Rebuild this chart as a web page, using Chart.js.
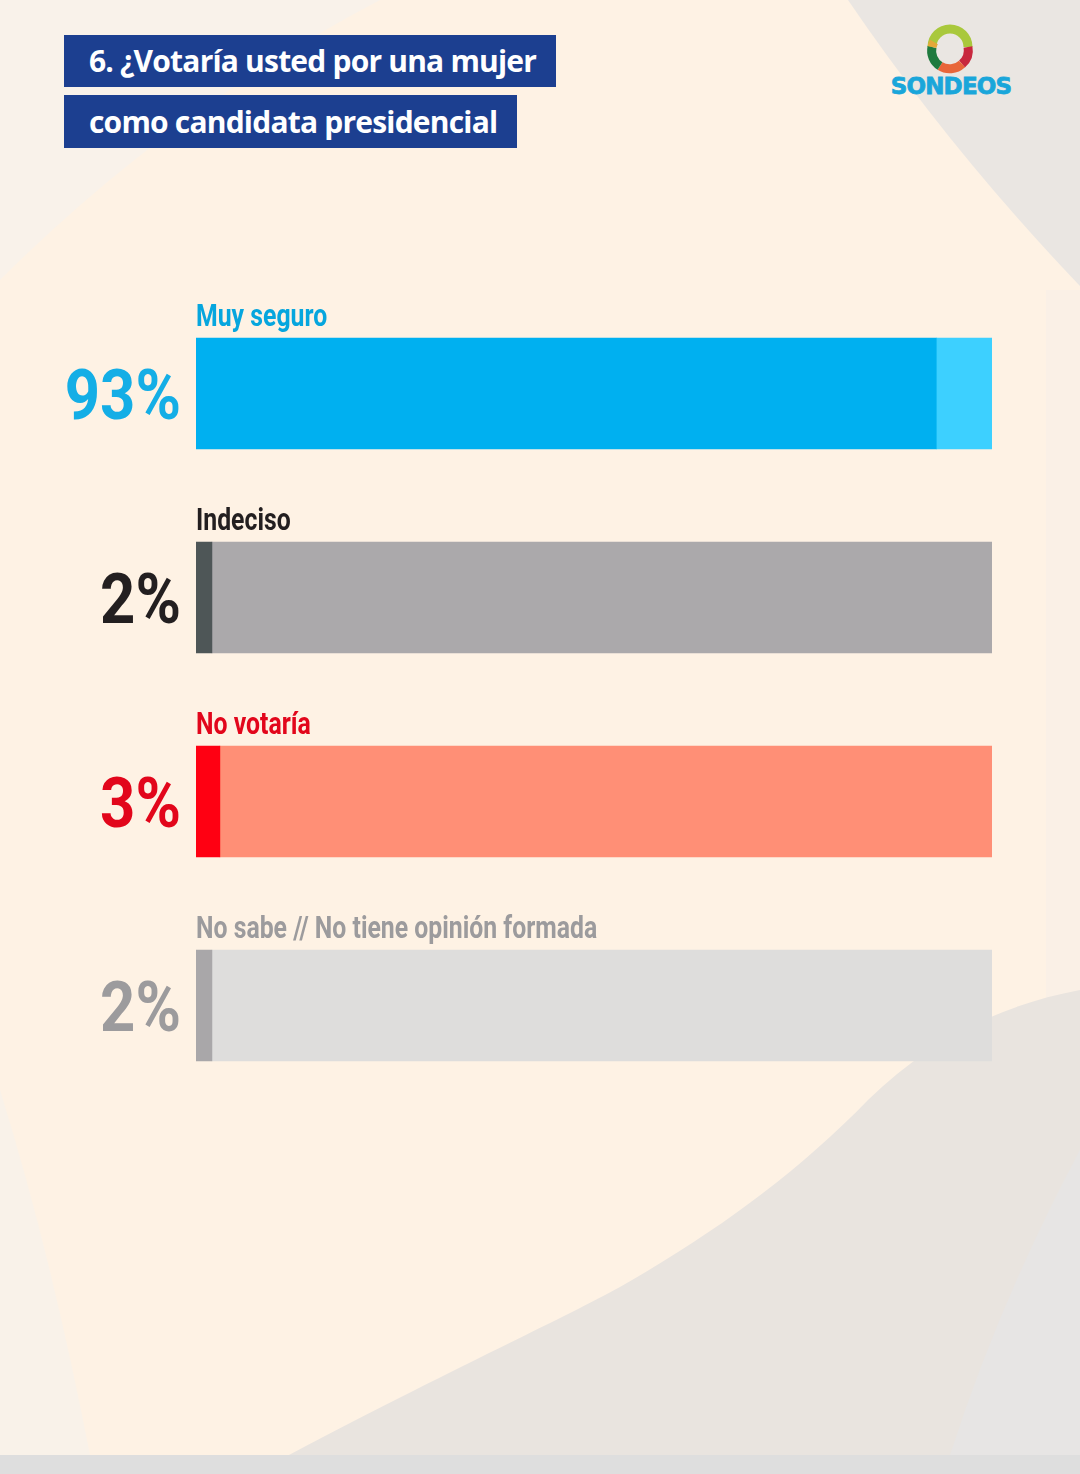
<!DOCTYPE html>
<html>
<head>
<meta charset="utf-8">
<script src="https://cdn.jsdelivr.net/npm/chart.js@4.4.1/dist/chart.umd.min.js"></script>
<style>
  html, body { margin: 0; padding: 0; }
  body { width: 1080px; height: 1474px; position: relative; overflow: hidden; background: #FEF2E4; }
  #bg { position: absolute; left: 0; top: 0; }
  .tbox { position: absolute; left: 64px; background: #1C3F90; color: #fff;
          font-family: "Open Sans", "Noto Sans", sans-serif; font-weight: 700; font-size: 30px;
          letter-spacing: -0.8px; box-sizing: border-box; padding-left: 25px; white-space: nowrap; }
  #t1 { top: 35px; width: 492px; height: 52px; line-height: 52px; }
  #t2 { top: 95px; width: 453px; height: 53px; line-height: 53px; }
  #logo { position: absolute; left: 886px; top: 24px; width: 130px; height: 76px; }
  #logoText { position: absolute; left: 0; top: 49px; width: 130px; text-align: center;
              font-family: "DejaVu Sans", sans-serif; font-weight: 700; font-size: 23px; color: #1AA6DA;
              letter-spacing: -0.8px; -webkit-text-stroke: 0.8px #1AA6DA; }
  #wrap { position: absolute; left: 0; top: 0; width: 1080px; height: 1474px; }
</style>
</head>
<body>
<svg id="bg" width="1080" height="1474" viewBox="0 0 1080 1474">
  <path d="M0,0 L380,0 Q170,110 0,280 Z" fill="#F9F2EA"/>
  <path d="M848,0 L1080,0 L1080,286 Q950,150 848,0 Z" fill="#EAE6E2"/>
  <path d="M1046,290 L1080,290 L1080,1000 L1046,1000 Z" fill="#FAF0E6"/>
  <path d="M289,1455 C450,1370 560,1320 620,1287 C720,1230 800,1170 868,1100 C930,1040 1000,1005 1080,990 L1080,1455 Z" fill="#E9E4DF"/>
  <path d="M1080,1150 Q1000,1300 950,1455 L1080,1455 Z" fill="#E7E5E4"/>
  <path d="M0,1090 Q50,1250 90,1455 L0,1455 Z" fill="#F9F2E9"/>
  <rect x="0" y="1455" width="1080" height="19" fill="#DEDEDE"/>
</svg>
<div class="tbox" id="t1">6. ¿Votaría usted por una mujer</div>
<div class="tbox" id="t2">como candidata presidencial</div>
<div id="logo">
  <svg width="130" height="50" viewBox="0 0 130 50" style="position:absolute;left:0;top:0">
    <g transform="translate(64,27)" fill="none" stroke-width="9">
      <path d="M-18,-4 A18,18 0 0 1 18,-4" stroke="#A9C83C"/>
      <path d="M18,-4 A18,18 0 0 1 12,13" stroke="#C8283E"/>
      <path d="M12,13 A18,18 0 0 1 -10,15" stroke="#E8663A"/>
      <path d="M-10,15 A18,18 0 0 1 -18,-4" stroke="#1F7A3E"/>
      <path d="M-18,-4 A18,18 0 0 1 -16,-9" stroke="#E4A83A"/>
    </g>
  </svg>
  <div id="logoText">SONDEOS</div>
</div>
<div id="wrap"><canvas id="c" width="1080" height="1474"></canvas></div>
<script>
const categories = ['Muy seguro', 'Indeciso', 'No votaría', 'No sabe // No tiene opinión formada'];
const values = [93, 2, 3, 2];
const valueLabels = ['93%', '2%', '3%', '2%'];
const valueColors = ['#00B0F0', '#4E5657', '#FF0012', '#A9A7A9'];
const restColors = ['#3DD0FF', '#ABA9AB', '#FF8F76', '#DEDDDC'];
const labelColors = ['#06A6DE', '#231F20', '#E2061B', '#9C9B9D'];
const pctColors = ['#14AEE6', '#231F20', '#E2061B', '#9C9B9D'];
const rest = values.map(v => 100 - v);

const labelPlugin = {
  id: 'labels',
  afterDatasetsDraw(chart) {
    const ctx = chart.ctx;
    const meta = chart.getDatasetMeta(0);
    const left = chart.chartArea.left;
    meta.data.forEach((bar, i) => {
      const top = bar.y - bar.height / 2;
      ctx.save();
      ctx.fillStyle = labelColors[i];
      ctx.font = '700 31px Roboto, "Liberation Sans", sans-serif';
      ctx.textBaseline = 'alphabetic';
      ctx.textAlign = 'left';
      ctx.translate(left, top - 12);
      ctx.scale(0.8, 1);
      ctx.fillText(categories[i], 0, 0);
      ctx.restore();

      ctx.save();
      ctx.fillStyle = pctColors[i];
      ctx.font = '700 70px Roboto, "Liberation Sans", sans-serif';
      ctx.textAlign = 'right';
      ctx.textBaseline = 'alphabetic';
      ctx.translate(left - 15, bar.y + 25);
      ctx.scale(0.88, 1);
      ctx.fillText(valueLabels[i], 0, 0);
      ctx.restore();
    });
  }
};

new Chart(document.getElementById('c'), {
  type: 'bar',
  data: {
    labels: categories,
    datasets: [
      { data: values, backgroundColor: valueColors, barThickness: 111, borderWidth: 0 },
      { data: rest, backgroundColor: restColors, barThickness: 111, borderWidth: 0 }
    ]
  },
  options: {
    indexAxis: 'y',
    responsive: false,
    animation: false,
    events: [],
    layout: { padding: { left: 196, right: 88, top: 291.5, bottom: 366.5 } },
    scales: {
      x: { stacked: true, min: 0, max: 100, display: false },
      y: { stacked: true, display: false }
    },
    plugins: { legend: { display: false }, tooltip: { enabled: false } }
  },
  plugins: [labelPlugin]
});
</script>
</body>
</html>
